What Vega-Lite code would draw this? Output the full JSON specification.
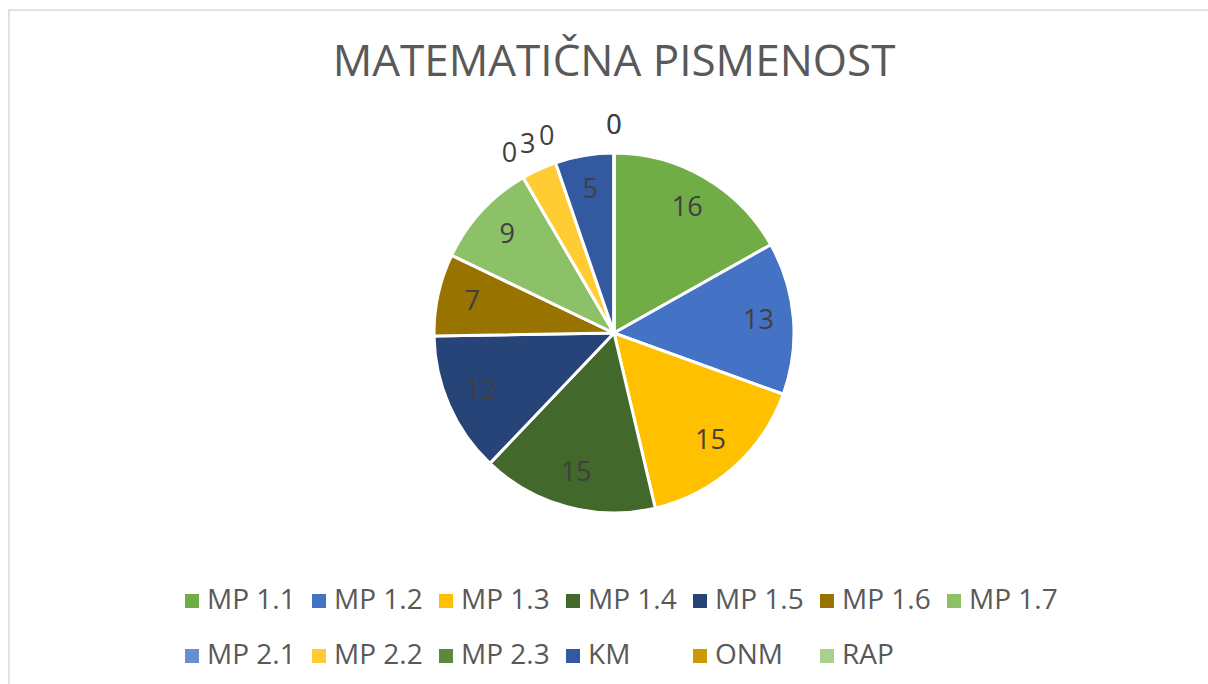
{
  "$schema": "https://vega.github.io/schema/vega-lite/v6.json",
  "autosize": {"type": "none"},
  "padding": {"left": 9, "top": 10, "right": 0, "bottom": 0},
  "width": 1220,
  "height": 690,
  "background": "white",
  "config": {
    "view": {"stroke": "#d9d9d9", "strokeWidth": 1.5},
    "style": {"view": {"stroke": "#d9d9d9", "strokeWidth": 1.5}, "cell": {"stroke": "#d9d9d9", "strokeWidth": 1.5}},
    "font": "Open Sans"
  },
  "title": {
    "text": "MATEMATIČNA PISMENOST",
    "font": "Open Sans",
    "fontSize": 44,
    "fontWeight": 400,
    "color": "#595959",
    "anchor": "middle",
    "frame": "group",
    "orient": "top",
    "offset": -75,
    "dx": -5
  },
  "data": {
    "values": [
      {"i": 1, "cat": "MP 1.1", "value": 16},
      {"i": 2, "cat": "MP 1.2", "value": 13},
      {"i": 3, "cat": "MP 1.3", "value": 15},
      {"i": 4, "cat": "MP 1.4", "value": 15},
      {"i": 5, "cat": "MP 1.5", "value": 12},
      {"i": 6, "cat": "MP 1.6", "value": 7},
      {"i": 7, "cat": "MP 1.7", "value": 9},
      {"i": 8, "cat": "MP 2.1", "value": 0},
      {"i": 9, "cat": "MP 2.2", "value": 3},
      {"i": 10, "cat": "MP 2.3", "value": 0},
      {"i": 11, "cat": "KM", "value": 5},
      {"i": 12, "cat": "ONM", "value": 0},
      {"i": 13, "cat": "RAP", "value": 0}
    ]
  },
  "encoding": {
    "theta": {"field": "value", "type": "quantitative", "stack": true},
    "order": {"field": "i", "type": "quantitative"}
  },
  "layer": [
    {
      "mark": {"type": "arc", "outerRadius": 180, "stroke": "white", "strokeWidth": 3, "xOffset": -5, "yOffset": -22},
      "encoding": {
        "color": {
          "field": "cat",
          "type": "nominal",
          "scale": {
            "domain": ["MP 1.1", "MP 1.2", "MP 1.3", "MP 1.4", "MP 1.5", "MP 1.6", "MP 1.7", "MP 2.1", "MP 2.2", "MP 2.3", "KM", "ONM", "RAP"],
            "range": ["#70AD47", "#4472C4", "#FFC000", "#43682B", "#264478", "#997300", "#8CC168", "#698ED0", "#FFCD33", "#5A8A39", "#335AA1", "#CC9A00", "#A9D08E"]
          },
          "legend": {
            "orient": "none",
            "legendX": 169,
            "legendY": 577,
            "direction": "horizontal",
            "columns": 7,
            "gridAlign": "all",
            "title": null,
            "padding": 0,
            "symbolType": "square",
            "symbolSize": 196,
            "symbolStrokeWidth": 0,
            "labelFont": "Open Sans",
            "labelFontSize": 28,
            "labelColor": "#595959",
            "labelOffset": 1,
            "labelLimit": 400,
            "columnPadding": 9,
            "rowPadding": 27
          }
        }
      }
    },
    {
      "mark": {
        "type": "text",
        "radius": {"expr": "datum.value < 5 ? 207 : 145"},
        "font": "Open Sans",
        "fontSize": 27,
        "fill": "#404040",
        "align": "center",
        "baseline": "middle",
        "xOffset": -5,
        "yOffset": -22
      },
      "encoding": {
        "detail": {"field": "cat", "type": "nominal"},
        "text": {"field": "value", "type": "quantitative"}
      }
    }
  ]
}
